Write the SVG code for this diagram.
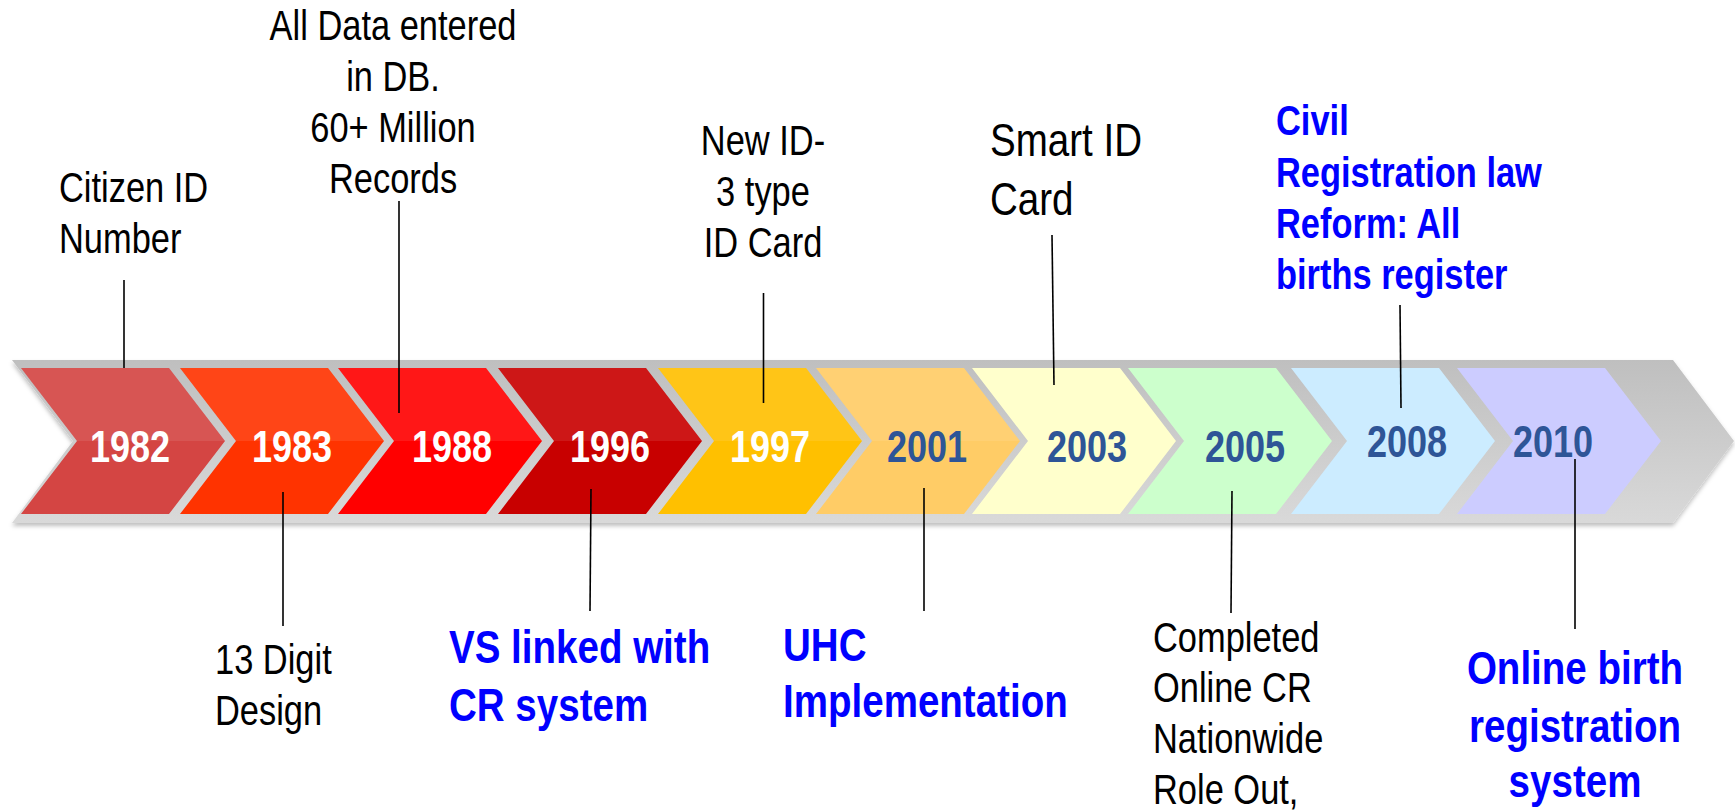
<svg xmlns="http://www.w3.org/2000/svg" width="1735" height="811" viewBox="0 0 1735 811">
<defs>
<linearGradient id="band" x1="0" y1="0" x2="0" y2="1">
<stop offset="0" stop-color="#BFBFBF"/>
<stop offset="1" stop-color="#D9D9D9"/>
</linearGradient>
<filter id="sh" x="-5%" y="-20%" width="110%" height="140%">
<feDropShadow dx="0" dy="3" stdDeviation="2" flood-color="#000" flood-opacity="0.25"/>
</filter>
<polygon id="chev" points="0,368 148,368 204,441 148,514 0,514 56,441"/>
<polygon id="gloss" points="0,368 148,368 204,441 56,441"/>
</defs>
<style>
.t{font-family:"Liberation Sans",Arial,sans-serif;font-size:42px;fill:#000}
.b{font-family:"Liberation Sans",Arial,sans-serif;font-weight:bold;fill:#0000FF}
.yr{font-family:"Liberation Sans",Arial,sans-serif;font-weight:bold;font-size:44px;text-anchor:middle}
.m{text-anchor:middle}
.w{fill:#FFFFFF}
.d{fill:#2E5597}
.gl{fill:#FFFFFF;opacity:0.09}
.c{stroke:#000;stroke-width:1.6;fill:none}
</style>
<rect width="1735" height="811" fill="#FFFFFF"/>
<g id="band-bar">
<polygon points="12,360 1673,360 1734,441 1673,523 12,523 73,441" fill="url(#band)" filter="url(#sh)"/>
</g>
<g id="node-1982"><use href="#chev" x="21" fill="#D44543"/><use href="#gloss" x="21" class="gl"/><text class="yr w" transform="translate(130,462) scale(0.82,1)">1982</text></g>
<g id="node-1983"><use href="#chev" x="180" fill="#FF3300"/><use href="#gloss" x="180" class="gl"/><text class="yr w" transform="translate(292,462) scale(0.82,1)">1983</text></g>
<g id="node-1988"><use href="#chev" x="338" fill="#FF0000"/><use href="#gloss" x="338" class="gl"/><text class="yr w" transform="translate(452,462) scale(0.82,1)">1988</text></g>
<g id="node-1996"><use href="#chev" x="498" fill="#C80000"/><use href="#gloss" x="498" class="gl"/><text class="yr w" transform="translate(610,462) scale(0.82,1)">1996</text></g>
<g id="node-1997"><use href="#chev" x="658" fill="#FFC000"/><use href="#gloss" x="658" class="gl"/><text class="yr w" transform="translate(770,462) scale(0.82,1)">1997</text></g>
<g id="node-2001"><use href="#chev" x="816" fill="#FFCC66"/><use href="#gloss" x="816" class="gl"/><text class="yr d" transform="translate(927,462) scale(0.82,1)">2001</text></g>
<g id="node-2003"><use href="#chev" x="972" fill="#FFFFCC"/><text class="yr d" transform="translate(1087,462) scale(0.82,1)">2003</text></g>
<g id="node-2005"><use href="#chev" x="1128" fill="#CCFFCC"/><text class="yr d" transform="translate(1245,462) scale(0.82,1)">2005</text></g>
<g id="node-2008"><use href="#chev" x="1291" fill="#CCECFF"/><text class="yr d" transform="translate(1407,457) scale(0.82,1)">2008</text></g>
<g id="node-2010"><use href="#chev" x="1457" fill="#CCCCFF"/><text class="yr d" transform="translate(1553,457) scale(0.82,1)">2010</text></g>
<g id="connectors">
<line class="c" x1="124" y1="280" x2="124" y2="368"/>
<line class="c" x1="283" y1="492" x2="283" y2="626"/>
<line class="c" x1="399" y1="201" x2="399" y2="413"/>
<line class="c" x1="591" y1="489" x2="590" y2="611"/>
<line class="c" x1="763.5" y1="293" x2="763.5" y2="403"/>
<line class="c" x1="924" y1="488" x2="924" y2="611"/>
<line class="c" x1="1052" y1="235" x2="1054" y2="385"/>
<line class="c" x1="1232" y1="491" x2="1231" y2="613"/>
<line class="c" x1="1400" y1="305" x2="1401" y2="408"/>
<line class="c" x1="1575" y1="459" x2="1575" y2="629"/>
</g>
<g id="label-1982"><text class="t" transform="translate(59,202) scale(0.82,1)">Citizen ID</text><text class="t" transform="translate(59,253) scale(0.82,1)">Number</text></g>
<g id="label-1988"><text class="t m" transform="translate(393,40) scale(0.82,1)">All Data entered</text><text class="t m" transform="translate(393,91) scale(0.82,1)">in DB.</text><text class="t m" transform="translate(393,142) scale(0.82,1)">60+ Million</text><text class="t m" transform="translate(393,193) scale(0.82,1)">Records</text></g>
<g id="label-1997"><text class="t m" transform="translate(763,155) scale(0.82,1)">New ID-</text><text class="t m" transform="translate(763,206) scale(0.82,1)">3 type</text><text class="t m" transform="translate(763,257) scale(0.82,1)">ID Card</text></g>
<g id="label-2003"><text class="t" transform="translate(990,156) scale(0.82,1)" style="font-size:47px">Smart ID</text><text class="t" transform="translate(990,215) scale(0.82,1)" style="font-size:47px">Card</text></g>
<g id="label-2008" style="font-size:42px"><text class="b" transform="translate(1276,135) scale(0.82,1)">Civil</text><text class="b" transform="translate(1276,187) scale(0.82,1)">Registration law</text><text class="b" transform="translate(1276,238) scale(0.82,1)">Reform: All</text><text class="b" transform="translate(1276,289) scale(0.82,1)">births register</text></g>
<g id="label-1983"><text class="t" transform="translate(215,674) scale(0.82,1)">13 Digit</text><text class="t" transform="translate(215,725) scale(0.82,1)">Design</text></g>
<g id="label-1996" style="font-size:47px"><text class="b" transform="translate(449,663) scale(0.82,1)">VS linked with</text><text class="b" transform="translate(449,721) scale(0.82,1)">CR system</text></g>
<g id="label-2001" style="font-size:47px"><text class="b" transform="translate(783,661) scale(0.82,1)">UHC</text><text class="b" transform="translate(783,717) scale(0.82,1)">Implementation</text></g>
<g id="label-2005"><text class="t" transform="translate(1153,652) scale(0.82,1)">Completed</text><text class="t" transform="translate(1153,702) scale(0.82,1)">Online CR</text><text class="t" transform="translate(1153,753) scale(0.82,1)">Nationwide</text><text class="t" transform="translate(1153,804) scale(0.82,1)">Role Out,</text></g>
<g id="label-2010" style="font-size:47px"><text class="b m" transform="translate(1575,684) scale(0.82,1)">Online birth</text><text class="b m" transform="translate(1575,742) scale(0.82,1)">registration</text><text class="b m" transform="translate(1575,797) scale(0.82,1)">system</text></g>
</svg>
